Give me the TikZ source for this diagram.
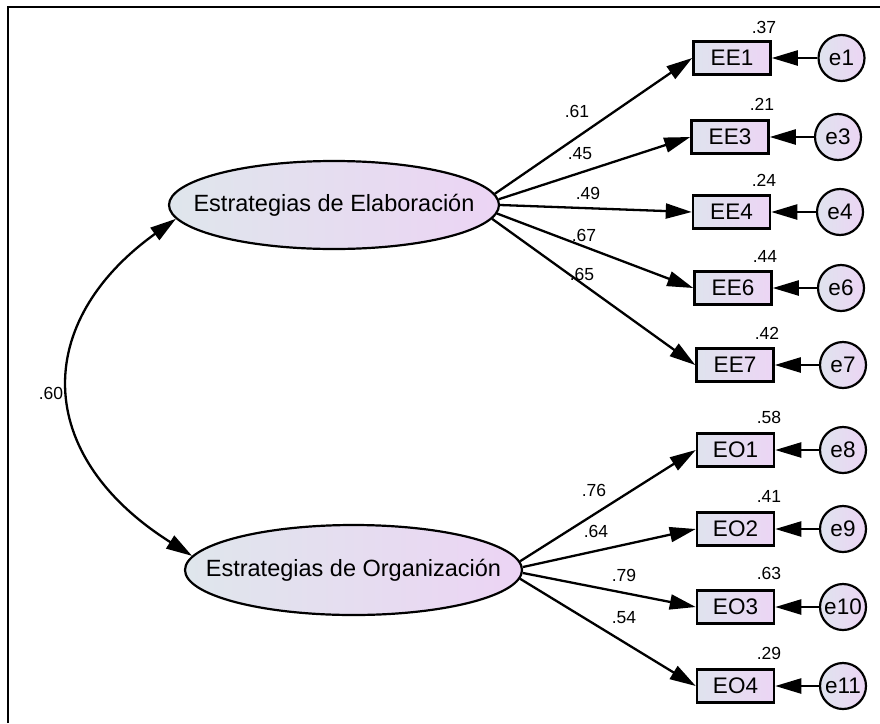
\documentclass[tikz,border=0pt]{standalone}
\usepackage{fontspec}
\setmainfont{Liberation Sans}
\usetikzlibrary{arrows.meta,shapes.geometric}
\definecolor{gl}{HTML}{DFE6EC}
\definecolor{gr}{HTML}{ECD4F4}
\definecolor{bl}{HTML}{DFE3EE}
\definecolor{br}{HTML}{ECD5F4}
\tikzset{
 lat/.style={ellipse, draw, line width=2.2pt, left color=gl, right color=gr, inner sep=0pt,
   minimum width=330pt, minimum height=88pt},
 lattext/.style={font=\fontsize{23.5}{26}\selectfont, inner sep=0pt},
 obs/.style={rectangle, draw, line width=2.5pt, left color=bl, right color=br,
   minimum width=77pt, minimum height=33pt, inner sep=0pt, font=\fontsize{22.5}{24}\selectfont},
 err/.style={circle, draw, line width=2.2pt, left color=bl, right color=br,
   minimum size=46pt, inner sep=0pt, font=\fontsize{22.5}{24}\selectfont},
 lbl/.style={font=\fontsize{17.5}{19}\selectfont, inner sep=0pt},
 arr/.style={line width=2.3pt, -{Triangle[length=26pt,width=15pt]}},
 dblarr/.style={line width=2.3pt, {Triangle[length=26pt,width=15pt]}-{Triangle[length=26pt,width=15pt]}},
}
\begin{document}
\begin{tikzpicture}[x=1pt,y=-1pt]
\useasboundingbox (0,0) rectangle (880,723);
\fill[white] (0,0) rectangle (880,723);
\draw[line width=2.2pt] (8,723) -- (8,7) -- (880,7);

\node[lat] (E) at (334,205) {};
\node[lattext] (Et) at (E.center) {Estrategias de Elaboración};
\node[lat, minimum width=337pt, minimum height=90pt] (O) at (353.5,570) {};
\node[lattext] (Ot) at (O.center) {Estrategias de Organización};

% observed
\node[obs] (EE1) at (732,58) {EE1};
\node[obs] (EE3) at (730,137) {EE3};
\node[obs] (EE4) at (731.5,212) {EE4};
\node[obs] (EE6) at (733,288) {EE6};
\node[obs] (EE7) at (735,365) {EE7};
\node[obs] (EO1) at (735.5,450) {EO1};
\node[obs] (EO2) at (735.5,529) {EO2};
\node[obs] (EO3) at (735.5,607) {EO3};
\node[obs] (EO4) at (735.5,686) {EO4};

% errors
\node[err] (e1) at (841.5,58) {e1};
\node[err] (e3) at (838,137) {e3};
\node[err] (e4) at (840,212) {e4};
\node[err] (e6) at (841,288) {e6};
\node[err] (e7) at (843,365) {e7};
\node[err] (e8) at (843,450) {e8};
\node[err] (e9) at (843,529) {e9};
\node[err] (e10) at (843,607) {e10};
\node[err] (e11) at (843,686) {e11};

\foreach \a/\b in {e1/EE1,e3/EE3,e4/EE4,e6/EE6,e7/EE7,e8/EO1,e9/EO2,e10/EO3,e11/EO4}
  \draw[arr] (\a) -- (\b);

% loadings
\draw[arr] (E.4.5) -- (EE1.west);
\draw[arr] (E.2) -- (EE3.west);
\draw[arr] (E.-0.5) -- (EE4.west);
\draw[arr] (E.-3) -- (EE6.west);
\draw[arr] (E.-5.5) -- (EE7.west);
\draw[arr] (O.3) -- (EO1.west);
\draw[arr] (O.1.5) -- (EO2.west);
\draw[arr] (O.-1) -- (EO3.west);
\draw[arr] (O.-3) -- (EO4.west);

% covariance
\draw[dblarr] (E.185) .. controls (32.5,322) and (32.5,455) .. (O.175);
\node[lbl] (c60) at (51,393) {.60};

% loading labels
\node[lbl] (l61) at (577,111) {.61};
\node[lbl] (l45) at (580,154) {.45};
\node[lbl] (l49) at (588,193) {.49};
\node[lbl] (l67) at (584,235) {.67};
\node[lbl] (l65) at (582,274) {.65};
\node[lbl] (l76) at (594,490) {.76};
\node[lbl] (l64) at (596,531) {.64};
\node[lbl] (l79) at (624,575) {.79};
\node[lbl] (l54) at (624,618) {.54};

% R2 labels
\node[lbl] (r1) at (764,27) {.37};
\node[lbl] (r3) at (762,104) {.21};
\node[lbl] (r4) at (764,180) {.24};
\node[lbl] (r6) at (765,256) {.44};
\node[lbl] (r7) at (767,333) {.42};
\node[lbl] (r8) at (769,417) {.58};
\node[lbl] (r9) at (769,496) {.41};
\node[lbl] (r10) at (769,573) {.63};
\node[lbl] (r11) at (769,653) {.29};
\end{tikzpicture}
\end{document}
